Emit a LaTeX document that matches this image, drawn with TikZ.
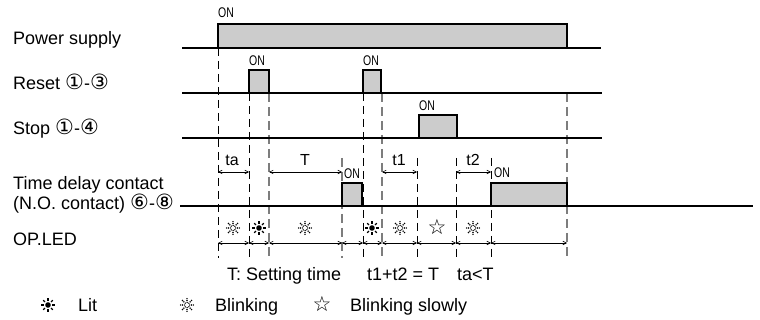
\documentclass[tikz,border=0pt]{standalone}
\usepackage{fontspec}
\setmainfont{Liberation Sans}
\newfontfamily\dv{DejaVu Sans}
\newfontfamily\cond[FakeStretch=0.75]{Liberation Sans}
\usetikzlibrary{arrows.meta}
\definecolor{fillg}{RGB}{204,204,204}
\definecolor{dashg}{RGB}{125,125,125}
\newcommand{\cn}[1]{{\dv\fontsize{21}{21}\selectfont #1}}
\begin{document}
\begin{tikzpicture}[x=1pt,y=-1pt,
  sig/.style={line width=1.5pt},
  bdash/.style={line width=0.8pt, dash pattern=on 8pt off 5pt},
  gdash/.style={draw=dashg, line width=1.3pt, dash pattern=on 9pt off 5pt},
  dim/.style={line width=0.6pt, {Straight Barb[length=3.5pt,width=3.5pt]}-{Straight Barb[length=3.5pt,width=3.5pt]}},
  lbl/.style={inner sep=0, anchor=base west, font=\fontsize{18}{20}\selectfont},
  onl/.style={inner sep=0, anchor=base west, font=\cond\fontsize{14}{14}\selectfont},
  tl/.style={inner sep=0, anchor=base, font=\fontsize{16}{16}\selectfont},
  starl/.style={inner sep=0, font=\dv\fontsize{21}{21}\selectfont},
  lit/.pic={\fill (0,0) circle (2.8);
    \foreach \a in {0,45,...,315} \draw[line width=1.2pt] (\a:4.3) -- (\a:6.8);},
  blink/.pic={\foreach \a in {0,45,...,315}{\fill (\a:2.5) circle (0.75);
    \fill (\a:4.5) circle (0.8); \fill (\a:6.4) circle (0.8);}}
]
\useasboundingbox (0,0) rectangle (760,320);

% dashed guide lines
\foreach \x/\t in {218/48,249/93,363/93,417/158,456/158,491/158}
  \draw[bdash] (\x,\t) -- (\x,258);
\foreach \x/\t in {269/93,342/158,382/93,567/93}
  \draw[gdash] (\x,\t) -- (\x,258);

% labels
\node[lbl] (lp) at (13,45) {Power supply};
\node[lbl] (lr) at (13,90) {Reset \cn{①}-\cn{③}};
\node[lbl] (ls) at (13,135) {Stop \cn{①}-\cn{④}};
\node[lbl] (lt1) at (13,190) {Time delay contact};
\node[lbl] (lt2) at (13,210) {(N.O. contact) \cn{⑥}-\cn{⑧}};
\node[lbl] (lo) at (13,246) {OP.LED};

% power supply
\fill[fillg] (218,24) rectangle (567,48);
\draw[sig] (182,48) -- (601,48);
\draw[sig] (218,48) |- (567,24) -- (567,48);
\node[onl] (on1) at (218,18) {ON};

% reset
\fill[fillg] (249,70) rectangle (269,93);
\fill[fillg] (363,70) rectangle (381,93);
\draw[sig] (182,93) -- (602,93);
\draw[sig] (249,93) |- (269,70) -- (269,93);
\draw[sig] (363,93) |- (381,70) -- (381,93);
\node[onl] (on2) at (249,66) {ON};
\node[onl] (on3) at (363,66) {ON};

% stop
\fill[fillg] (419,115) rectangle (457,138);
\draw[sig] (182,138) -- (602,138);
\draw[sig] (419,138) |- (457,115) -- (457,138);
\node[onl] (on4) at (419,111) {ON};

% time delay contact
\fill[fillg] (342,183) rectangle (362,206);
\fill[fillg] (491,183) rectangle (567,206);
\draw[sig] (180,206) -- (753,206);
\draw[sig] (342,206) |- (362,183) -- (362,206);
\draw[sig] (491,206) |- (567,183) -- (567,206);
\node[onl] (on5) at (344,179) {ON};
\node[onl] (on6) at (494,178) {ON};

% time spans
\draw[dim] (218,172) -- (249,172);
\draw[dim] (269,172) -- (342,172);
\draw[dim] (382,172) -- (417,172);
\draw[dim] (456,172) -- (491,172);
\node[tl] (kta) at (232,166) {ta};
\node[tl] (kT) at (305,166) {T};
\node[tl] (kt1) at (399,166) {t1};
\node[tl] (kt2) at (473,166) {t2};

% LED states
\pic at (233,228) {blink};
\pic at (259,228) {lit};
\pic at (305,228) {blink};
\pic at (372,228) {lit};
\pic at (400,228) {blink};
\node[starl] (st1) at (437,227) {☆};
\pic at (473,228) {blink};

\foreach \a/\b in {218/249,249/269,269/342,342/363,363/382,382/417,417/456,456/491,491/567}
  \draw[dim] (\a,243) -- (\b,243);

% notes
\node[lbl] (n1) at (227,280) {T: Setting time};
\node[lbl] (n2) at (367,280) {t1+t2 = T};
\node[lbl] (n3) at (457,280) {ta<T};

% legend
\pic at (48,305) {lit};
\node[lbl] (g1) at (78,312) {Lit};
\pic at (187,305) {blink};
\node[lbl] (g2) at (215,312) {Blinking};
\node[starl] (st2) at (322,304) {☆};
\node[lbl] (g3) at (350,312) {Blinking slowly};
\end{tikzpicture}
\end{document}
